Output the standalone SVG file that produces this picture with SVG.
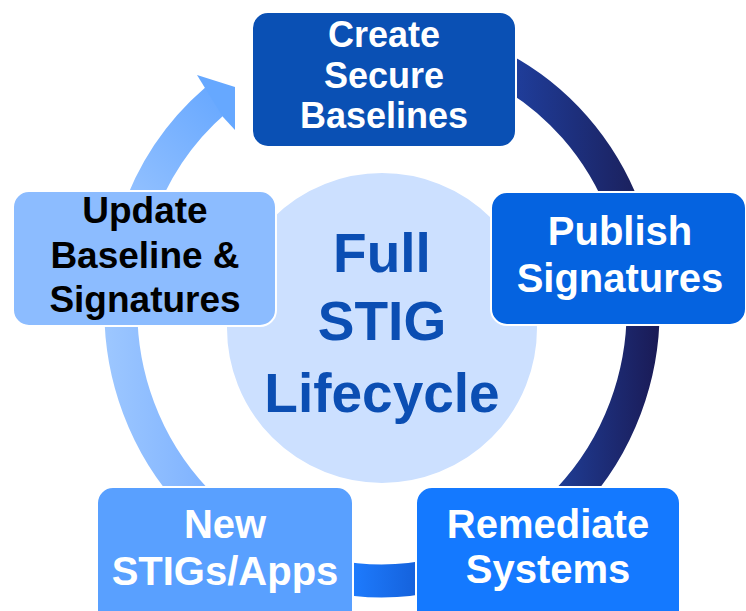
<svg xmlns="http://www.w3.org/2000/svg" width="746" height="611" viewBox="0 0 746 611">
<defs>
<linearGradient id="gArrow" gradientUnits="userSpaceOnUse" x1="130" y1="200" x2="235" y2="90">
<stop offset="0" stop-color="#93C1FF"/><stop offset="1" stop-color="#64A6FF"/>
</linearGradient>
<linearGradient id="gLeft" gradientUnits="userSpaceOnUse" x1="105" y1="0" x2="205" y2="0">
<stop offset="0" stop-color="#9DC7FF"/><stop offset="1" stop-color="#7FB3FF"/>
</linearGradient>
<linearGradient id="gBottom" gradientUnits="userSpaceOnUse" x1="350" y1="0" x2="416" y2="0">
<stop offset="0" stop-color="#1E7CFF"/><stop offset="1" stop-color="#1562DC"/>
</linearGradient>
<linearGradient id="gDarkTop" gradientUnits="userSpaceOnUse" x1="516" y1="0" x2="635" y2="0">
<stop offset="0" stop-color="#1F3D9A"/><stop offset="1" stop-color="#1B215E"/>
</linearGradient>
<linearGradient id="gDarkBot" gradientUnits="userSpaceOnUse" x1="560" y1="0" x2="660" y2="0">
<stop offset="0" stop-color="#1F3C93"/><stop offset="1" stop-color="#1A1A55"/>
</linearGradient>
</defs>
<style>
.ring{fill:none;stroke-width:33;}
.box{stroke:#FFFFFF;stroke-width:2;}
.lbl{font-family:"Liberation Sans",Arial,sans-serif;font-weight:bold;text-anchor:middle;fill:#FFFFFF;}
.dark{fill:#000000;}
.center{font-family:"Liberation Sans",Arial,sans-serif;font-weight:bold;text-anchor:middle;fill:#0B4EB3;font-size:55px;}
</style>
<rect width="746" height="611" fill="#FFFFFF"/>
<g id="connectors">
<path class="ring" stroke="url(#gArrow)" d="M 136 220 A 261 271 0 0 1 216 100"/>
<polygon points="205,88 197,75 235,87 235,130 223,117" fill="#66A8FF"/>
<path class="ring" stroke="url(#gLeft)" d="M 121 300 A 261 271 0 0 0 196 500"/>
<path class="ring" stroke="url(#gBottom)" d="M 440 574 A 261 271 0 0 1 330 575.6"/>
<path class="ring" stroke="url(#gDarkBot)" d="M 643 300 A 261 271 0 0 1 568 500"/>
<path class="ring" stroke="url(#gDarkTop)" d="M 500 68 A 261 271 0 0 1 624.5 210"/>
</g>
<g id="hub">
<circle cx="382" cy="328" r="156" fill="#CCE0FF" stroke="#FFFFFF" stroke-width="2"/>
<text class="center"><tspan x="382" y="272">Full</tspan><tspan x="382" y="340">STIG</tspan><tspan x="382" y="412">Lifecycle</tspan></text>
</g>
<g id="create">
<rect class="box" x="252" y="12" width="264" height="135" rx="16" fill="#0A50B4"/>
<text class="lbl" font-size="36"><tspan x="384" y="47">Create</tspan><tspan x="384" y="88">Secure</tspan><tspan x="384" y="128">Baselines</tspan></text>
</g>
<g id="publish">
<rect class="box" x="491" y="192" width="255" height="133" rx="16" fill="#0563E0"/>
<text class="lbl" font-size="40"><tspan x="620" y="245">Publish</tspan><tspan x="620" y="292">Signatures</tspan></text>
</g>
<g id="update">
<rect class="box" x="13" y="191" width="263" height="135" rx="16" fill="#8CBCFF"/>
<text class="lbl dark" font-size="37"><tspan x="145" y="223">Update</tspan><tspan x="145" y="268">Baseline &amp;</tspan><tspan x="145" y="312">Signatures</tspan></text>
</g>
<g id="new">
<rect class="box" x="97" y="487" width="256" height="140" rx="16" fill="#59A0FF"/>
<text class="lbl" font-size="40"><tspan x="225" y="538">New</tspan><tspan x="225" y="585">STIGs/Apps</tspan></text>
</g>
<g id="remediate">
<rect class="box" x="416" y="487" width="264" height="140" rx="16" fill="#1479FF"/>
<text class="lbl" font-size="40"><tspan x="548" y="538">Remediate</tspan><tspan x="548" y="583">Systems</tspan></text>
</g>
</svg>
